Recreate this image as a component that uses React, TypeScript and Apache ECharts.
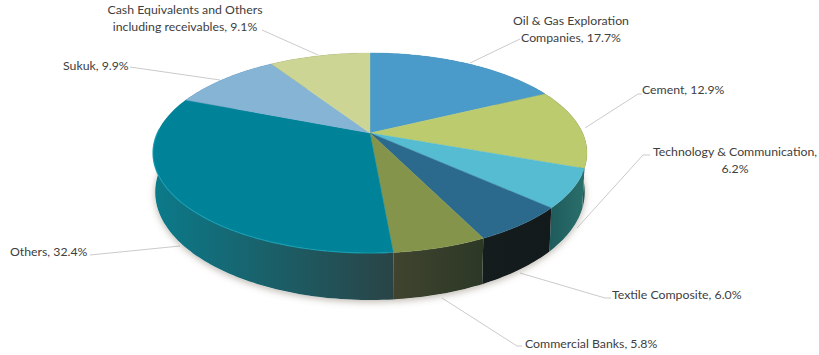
import React, { useEffect, useRef } from "react";
import * as echarts from "echarts";

const categories = [
  "Oil & Gas Exploration\nCompanies",
  "Cement",
  "Technology & Communication,\n",
  "Textile Composite",
  "Commercial Banks",
  "Others",
  "Sukuk",
  "Cash Equivalents and Others\nincluding receivables",
];
const shares = [17.7, 12.9, 6.2, 6.0, 5.8, 32.4, 9.9, 9.1];

const topColors = ["#4a9bc9", "#bccb6e", "#55bcd1", "#2b6a8c", "#84954b", "#008399", "#85b4d4", "#cdd595"];
const wallColors: string[][] = [
  ["#2f6f8f", "#2f6f8f"],
  ["#2c5a52", "#2c5a52"],
  ["#1f5b5c", "#2a6f6c"],
  ["#141c1e", "#121a1c"],
  ["#40442f", "#2c3826"],
  ["#0b7a8a", "#2a4446"],
  ["#3d6f8f", "#3d6f8f"],
  ["#70774a", "#70774a"],
];

// Perspective disc: apex of the slices and the projection constants.
const apex = { x: 370, y: 133 };
const disc = { rx: 212.6, ry: 96, tilt: 0.2, depth: 37.6 };

// Label anchors and leader-line routes, in page pixels.
const labelLayout = [
  { x: 571, y: 29, align: "center", line: [[520, 39], [470, 63]] },
  { x: 642, y: 89, align: "left", line: [[642, 94], [638, 94], [585, 128]] },
  { x: 735, y: 160, align: "center", line: [[650, 155], [643, 155], [577, 228]] },
  { x: 612, y: 294, align: "left", line: [[611, 298], [605, 298], [520, 273]] },
  { x: 525, y: 343, align: "left", line: [[522, 346], [517, 346], [442, 298]] },
  { x: 10, y: 251, align: "left", line: [[90, 255], [180, 246]] },
  { x: 63, y: 65, align: "left", line: [[130, 67], [220, 80]] },
  { x: 185, y: 18, align: "center", line: [[262, 30], [318, 55]] },
];
const labelFont = "12.3px Lato, sans-serif";
const leaderColor = "#cbcbcb";

const total = shares.reduce((a, b) => a + b, 0);
const bounds = (i: number) => {
  const before = shares.slice(0, i).reduce((a, b) => a + b, 0);
  return [(before / total) * 2 * Math.PI, ((before + shares[i]) / total) * 2 * Math.PI];
};

// Maps a clockwise angle from twelve o'clock on to the tilted top face.
const project = (t: number, drop = false) => {
  const u = Math.sin(t);
  const v = -Math.cos(t);
  const w = 1 - disc.tilt * v;
  const dx = (disc.rx * u) / w;
  const dy = (disc.ry * v) / w;
  return drop
    ? [apex.x + dx * 0.99, apex.y + dy + disc.depth / w]
    : [apex.x + dx, apex.y + dy];
};

const sample = (a: number, b: number, drop = false) => {
  const n = Math.max(2, Math.ceil((b - a) / 0.02));
  const pts: number[][] = [];
  for (let k = 0; k <= n; k++) pts.push(project(a + ((b - a) * k) / n, drop));
  return pts;
};

const hGradient = (from: string, to: string) =>
  new echarts.graphic.LinearGradient(0, 0, 1, 0, [
    { offset: 0, color: from },
    { offset: 1, color: to },
  ]);

const renderShadow = () => ({
  type: "polygon",
  shape: { points: sample(0, 2 * Math.PI, true) },
  style: { fill: "#ffffff", shadowBlur: 7, shadowColor: "rgba(110,100,80,0.45)", shadowOffsetY: 2 },
});

const renderWall = (params: any) => {
  const [a, b] = bounds(params.dataIndex);
  const upper = sample(a, b);
  const lower = sample(a, b, true).reverse();
  const [c0, c1] = wallColors[params.dataIndex];
  return {
    type: "polygon",
    shape: { points: upper.concat(lower) },
    style: { fill: hGradient(c0, c1) },
  };
};

const renderTop = (params: any) => {
  const [a, b] = bounds(params.dataIndex);
  const children: any[] = [
    {
      type: "polygon",
      shape: { points: [[apex.x, apex.y], ...sample(a, b)] },
      style: { fill: topColors[params.dataIndex], stroke: topColors[params.dataIndex], lineWidth: 0.4 },
    },
  ];
  // The largest front slice carries a lit bevel along its outer edge.
  if (params.dataIndex === 5) {
    children.push({
      type: "polyline",
      shape: { points: sample(a + 0.02, a + 1.7) },
      style: { stroke: "#17a2b4", lineWidth: 1.2, fill: "none", opacity: 0.75 },
    });
  }
  return { type: "group", children };
};

const renderLeader = (params: any) => ({
  type: "polyline",
  shape: { points: labelLayout[params.dataIndex].line },
  style: { stroke: leaderColor, lineWidth: 1, fill: "none" },
});

const renderLabel = (params: any) => {
  const i = params.dataIndex;
  const place = labelLayout[i];
  const name = categories[i];
  const text = name.endsWith("\n")
    ? `${name}${shares[i].toFixed(1)}%`
    : `${name}, ${shares[i].toFixed(1)}%`;
  return {
    type: "text",
    style: {
      x: place.x,
      y: place.y,
      text,
      font: labelFont,
      fill: "#404040",
      align: place.align,
      verticalAlign: "middle",
      lineHeight: 16.5,
    },
  };
};

const layer = (renderItem: any, z: number, data: number[] = shares) => ({
  type: "custom",
  coordinateSystem: "none",
  silent: true,
  z,
  data,
  renderItem,
});

export default function App() {
  const ref = useRef<HTMLDivElement>(null);
  useEffect(() => {
    document.body.style.margin = "0";
    const chart = echarts.init(ref.current!, null, { renderer: "svg" });
    chart.setOption({
      animation: false,
      backgroundColor: "#ffffff",
      series: [
        layer(renderLeader, 1),
        layer(renderShadow, 2, [total]),
        layer(renderWall, 3),
        layer(renderTop, 4),
        layer(renderLabel, 5),
      ],
    });
    return () => chart.dispose();
  }, []);
  return <div ref={ref} style={{ width: 819, height: 355 }} />;
}
